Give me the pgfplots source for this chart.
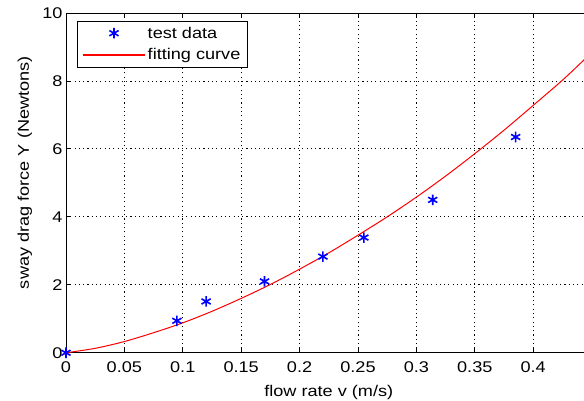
\documentclass[border=0pt]{standalone}
\usepackage{pgfplots}
\pgfplotsset{compat=1.18}
\usepackage{fontspec}
\setmainfont{Liberation Sans}[FakeStretch=1.17]
\newcommand\ff{\fontsize{15.5}{17}\selectfont}
\begin{document}
\begin{tikzpicture}
\begin{axis}[
  scale only axis,
  width=526pt, height=340pt,
  xmin=0, xmax=0.45, ymin=0, ymax=10,
  xtick={0,0.05,...,0.4}, ytick={0,2,...,10},
  scaled x ticks=false,
  /pgf/number format/fixed,
  /pgf/number format/assume math mode=true,
  tick label style={font=\ff},
  xticklabel style={yshift=-5pt},
  label style={font=\ff},
  xlabel={flow rate v (m/s)},
  ylabel={sway drag force Y (Newtons)},
  xlabel style={at={(axis description cs:0.5,-0.118)}, anchor=center},
  ylabel style={at={(axis description cs:-0.078,0.53)}, anchor=center},
  axis line style={black, line width=0.8pt},
  tick style={black, line width=0.8pt},
  major tick length=5pt,
  tick align=inside,
  grid=major,
  major grid style={black, line width=0.8pt, dash pattern=on 1.1pt off 3.2pt},
  clip=false,
  legend style={at={(0.021,0.976)}, anchor=north west,
    font=\ff, row sep=5pt, inner xsep=5pt, inner ysep=3.5pt,
    nodes={inner xsep=2pt}},
  legend cell align=left,
]
\addplot[only marks, blue, mark=asterisk, mark size=5.3pt, line width=1.6pt,
  legend image code/.code={\draw[blue, line width=1.6pt, mark size=5.3pt] plot[mark=asterisk, only marks] coordinates {(31pt,0pt)}; \path (0pt,0pt) (62pt,0pt);}] coordinates {
(0,0) (0.095,0.94) (0.12,1.51) (0.17,2.1) (0.22,2.83) (0.255,3.39) (0.314,4.5) (0.385,6.35)
};
\addlegendentry{test data}
\addplot[red, line width=1pt, smooth,
  legend image code/.code={\draw[red, line width=1.2pt] (0pt,0pt) -- (62pt,0pt);}] coordinates {
(0,0) (0.025,0.13) (0.05,0.33) (0.075,0.59) (0.1,0.88) (0.125,1.22) (0.15,1.6)
(0.175,2.01) (0.2,2.46) (0.225,2.94) (0.25,3.46) (0.275,4.0) (0.3,4.58) (0.325,5.2)
(0.35,5.86) (0.375,6.55) (0.4,7.28) (0.425,8.02) (0.4435,8.62) (0.45,8.83)
};
\addlegendentry{fitting curve}
\coordinate (o) at (rel axis cs:0,0);
\coordinate (tr) at (axis cs:0.4435,10);
\end{axis}
\pgfresetboundingbox
\useasboundingbox ([shift={(-66pt,-48pt)}]o) rectangle ([yshift=13pt]tr);
\end{tikzpicture}
\end{document}
